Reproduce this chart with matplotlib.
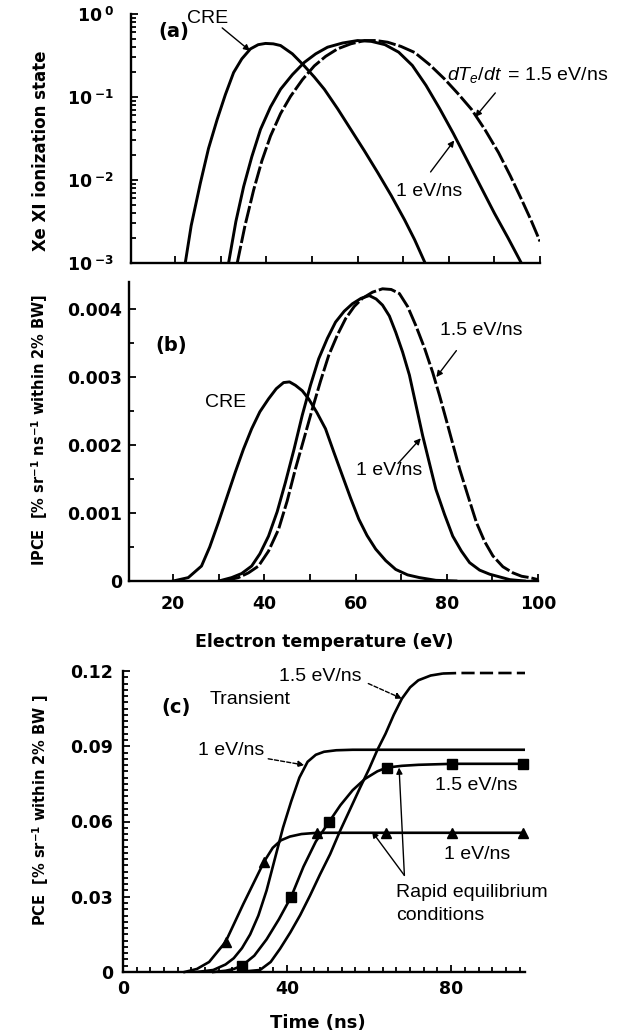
import matplotlib
matplotlib.use("Agg")
import numpy as np
import matplotlib.pyplot as plt
from matplotlib.ticker import (MultipleLocator, FuncFormatter, LogLocator,
                               NullFormatter, AutoMinorLocator)

plt.rcParams['font.family'] = ['DejaVu Sans']
plt.rcParams['font.weight'] = 'bold'
plt.rcParams['mathtext.fontset'] = 'custom'
plt.rcParams['mathtext.rm'] = 'Liberation Sans:weight=normal'
plt.rcParams['mathtext.it'] = 'Liberation Sans:style=italic:weight=normal'
plt.rcParams['mathtext.bf'] = 'DejaVu Sans:weight=bold'

# ---------------- (a) Xe XI ionization fraction vs electron temperature ----------------
te_cre_a = [22.2, 23.5, 25.5, 27.3, 29.2, 31.0, 32.8, 34.6, 36.5, 38.2, 39.8, 41.5,
            43.1, 45.7, 48.3, 50.5, 52.7, 55.6, 58.5, 61.5, 64.4, 67.4, 70.3, 72.5, 74.8]
xe_cre_a = [0.00100, 0.00282, 0.00912, 0.0240, 0.0537, 0.107, 0.197, 0.288, 0.380,
            0.427, 0.442, 0.437, 0.417, 0.331, 0.237, 0.174, 0.124, 0.0724, 0.0407,
            0.0224, 0.0123, 0.00646, 0.00331, 0.00191, 0.00100]

te_1_a = [31.7, 33.3, 35.0, 36.8, 38.7, 40.9, 43.1, 45.7, 48.3, 50.8, 53.4, 56.7, 60.0,
          63.0, 66.0, 69.0, 72.0, 75.0, 78.0, 81.0, 84.0, 87.0, 90.0, 93.0, 95.9]
xe_1_a = [0.00100, 0.00316, 0.00832, 0.0191, 0.0407, 0.0759, 0.124, 0.186, 0.261,
          0.331, 0.398, 0.447, 0.479, 0.468, 0.427, 0.347, 0.240, 0.138, 0.0724,
          0.0363, 0.0174, 0.00832, 0.00398, 0.00200, 0.00100]

te_15_a = [33.6, 35.3, 37.2, 39.0, 40.9, 43.1, 45.3, 47.9, 50.5, 53.0, 55.6, 58.5, 61.5,
           64.0, 66.6, 69.5, 72.5, 75.8, 79.1, 82.0, 85.0, 88.0, 90.9, 93.5, 96.0, 98.0, 100.0]
xe_15_a = [0.00100, 0.00282, 0.00759, 0.0170, 0.0339, 0.0631, 0.102, 0.162, 0.237,
           0.309, 0.380, 0.437, 0.479, 0.479, 0.457, 0.407, 0.344, 0.245, 0.164,
           0.110, 0.0708, 0.0398, 0.0214, 0.0112, 0.00575, 0.00331, 0.00182]

# ---------------- (b) IPCE vs electron temperature ----------------
te_cre_b = [20.0, 23.3, 26.2, 28.0, 29.9, 31.8, 33.6, 35.4, 37.2, 39.0, 40.9, 42.6, 44.2,
            45.5, 46.8, 48.3, 49.7, 51.5, 53.4, 55.2, 57.1, 58.9, 60.7, 62.5, 64.4, 66.6,
            68.8, 71.4, 74.0, 77.6, 82.0]
ipce_cre_b = [0.0, 0.00005, 0.00022, 0.00050, 0.00086, 0.00124, 0.00160, 0.00194,
              0.00224, 0.00249, 0.00268, 0.00283, 0.00292, 0.00293, 0.00288, 0.00280,
              0.00268, 0.00248, 0.00224, 0.00190, 0.00155, 0.00122, 0.00091, 0.00067,
              0.00047, 0.00030, 0.00017, 0.00009, 0.00005, 0.00001, 0.0]

te_1_b = [30.0, 32.8, 35.0, 37.2, 39.0, 40.9, 42.8, 44.6, 46.5, 48.3, 50.1, 51.9, 53.8,
          55.6, 57.5, 59.3, 61.2, 63.0, 64.5, 65.9, 67.4, 68.8, 70.3, 71.8, 73.2, 74.7,
          76.2, 77.6, 79.5, 81.3, 83.2, 85.0, 87.2, 89.4, 93.8, 97.0]
ipce_1_b = [0.0, 0.00005, 0.00011, 0.00022, 0.00040, 0.00066, 0.00102, 0.00145, 0.00194,
            0.00244, 0.00288, 0.00327, 0.00357, 0.00381, 0.00397, 0.00408, 0.00416,
            0.00420, 0.00415, 0.00406, 0.00390, 0.00366, 0.00337, 0.00303, 0.00260,
            0.00214, 0.00173, 0.00135, 0.00098, 0.00066, 0.00044, 0.00027, 0.00016,
            0.00010, 0.00002, 0.0]

te_15_b = [31.0, 34.3, 36.5, 38.7, 40.9, 43.1, 45.0, 46.8, 48.7, 50.5, 52.3, 54.1, 56.0,
           57.8, 59.7, 61.5, 63.7, 65.9, 67.8, 69.6, 71.4, 73.2, 75.1, 76.9, 78.4, 79.8,
           81.3, 82.8, 84.7, 86.5, 88.3, 90.1, 92.3, 94.5, 96.4, 98.2, 100.0]
ipce_15_b = [0.0, 0.00005, 0.00012, 0.00022, 0.00044, 0.00076, 0.00118, 0.00165, 0.00210,
             0.00253, 0.00294, 0.00332, 0.00362, 0.00386, 0.00404, 0.00416, 0.00425,
             0.00430, 0.00429, 0.00423, 0.00404, 0.00376, 0.00343, 0.00307, 0.00273,
             0.00239, 0.00202, 0.00165, 0.00124, 0.00086, 0.00058, 0.00037, 0.00021,
             0.00012, 0.00007, 0.00005, 0.00002]

# ---------------- (c) time-integrated PCE vs time ----------------
t_tr1 = [18, 22, 25, 27, 29, 31, 33, 35, 37, 39, 41, 43, 45, 47, 49, 52, 56, 98]
pce_tr1 = [0.0, 0.0008, 0.003, 0.0055, 0.0095, 0.015, 0.0225, 0.0325, 0.045, 0.0575,
           0.068, 0.0775, 0.0838, 0.0866, 0.0878, 0.0884, 0.0886, 0.0886]

t_tr15 = [28, 33.4, 36, 38.3, 40.8, 43.2, 45.6, 48, 50.5, 52.9, 55.4, 57.8, 60, 62,
          64, 66, 68, 70, 72, 75, 78, 82, 86, 98]
pce_tr15 = [0.0, 0.0008, 0.004, 0.0093, 0.0158, 0.0227, 0.0305, 0.0388, 0.047, 0.0562,
            0.065, 0.0735, 0.081, 0.0885, 0.095, 0.1025, 0.109, 0.1135, 0.1163, 0.1182,
            0.119, 0.1192, 0.1192, 0.1192]

t_eq15 = [22, 25, 27, 29, 32, 35, 38, 41, 44, 47, 50.3, 53, 56, 59, 62, 64.3, 68, 72,
          80.3, 89, 97.5]
pce_eq15 = [0.0, 0.0005, 0.0012, 0.0025, 0.0065, 0.013, 0.021, 0.030, 0.042, 0.052,
            0.060, 0.0665, 0.0725, 0.0770, 0.0800, 0.0815, 0.0822, 0.0826, 0.0830,
            0.0830, 0.0830]
eq15_marks = [3, 7, 10, 15, 18, 20]

t_eq1 = [15, 18, 21, 25, 29.3, 34.4, 36.5, 38.5, 40.7, 43.5, 47.3, 55, 64.2, 80.3, 97.6]
pce_eq1 = [0.0, 0.0012, 0.004, 0.012, 0.027, 0.044, 0.0495, 0.0525, 0.054, 0.055,
           0.0555, 0.0555, 0.0555, 0.0555, 0.0555]
eq1_marks = [3, 5, 10, 12, 13, 14]

W, H = 631, 1033
fig = plt.figure(figsize=(W / 100, H / 100), dpi=100)


def box(l, t, r, b):
    return [l / W, 1 - b / H, (r - l) / W, (b - t) / H]


ax_a = fig.add_axes(box(131, 14, 540, 263))
ax_b = fig.add_axes(box(129, 282, 538, 581))
ax_c = fig.add_axes(box(123, 671, 525, 972))


def style(ax):
    for s in ('top', 'right'):
        ax.spines[s].set_visible(False)
    for s in ('left', 'bottom'):
        ax.spines[s].set_linewidth(1.7)
    ax.tick_params(which='both', direction='in', width=1.3, labelsize=12.5,
                   top=False, right=False)
    ax.tick_params(which='major', length=5)
    ax.tick_params(which='minor', length=3.5)


for ax in (ax_a, ax_b, ax_c):
    style(ax)

LW = 2.1
ann_font = dict(family=['Liberation Sans', 'DejaVu Sans'], fontsize=14, fontweight='normal')
arrow_kw = dict(arrowstyle='-|>', color='k', lw=1.0, mutation_scale=9,
                shrinkA=0, shrinkB=0)


def split_plot(ax, x, y, dashed_spans, lw, dash):
    """Draw one curve, dashed inside the given x spans and solid elsewhere."""
    x = np.asarray(x)
    y = np.asarray(y)
    ax.plot(x, y, color='k', lw=lw, solid_capstyle='butt')
    for lo, hi in dashed_spans:
        m = (x >= lo) & (x <= hi)
        ax.plot(x[m], y[m], color='white', lw=lw + 1.2, solid_capstyle='butt')
        ax.plot(x[m], y[m], color='k', lw=lw, ls=dash)


# ---- panel (a)
ax_a.plot(te_cre_a, xe_cre_a, color='k', lw=LW)
ax_a.plot(te_1_a, xe_1_a, color='k', lw=LW)
ax_a.plot(te_15_a, xe_15_a, color='k', lw=LW, ls=(0, (6, 1.0)))
ax_a.set_yscale('log')
ax_a.set_ylim(1e-3, 1)
ax_a.set_xlim(10.3, 100)
ax_a.yaxis.set_major_locator(LogLocator(base=10, numticks=10))
ax_a.yaxis.set_minor_locator(LogLocator(base=10, subs=np.arange(2, 10), numticks=10))
ax_a.yaxis.set_minor_formatter(NullFormatter())
ax_a.yaxis.set_major_formatter(FuncFormatter(
    lambda v, p: r'$\mathbf{10}^{\ \mathbf{%d}}$' % int(round(np.log10(v)))))
ax_a.tick_params(axis='y', which='major', pad=12)
ax_a.xaxis.set_major_locator(MultipleLocator(10))
ax_a.xaxis.set_major_formatter(NullFormatter())

ax_a.text(19.6, 0.61, '(a)', ha='center', va='center', fontsize=14, fontweight='bold')
ax_a.text(27.2, 0.88, 'CRE', ha='center', va='center', **ann_font)
ax_a.annotate('', xy=(36.4, 0.36), xytext=(30.3, 0.68), arrowprops=arrow_kw)
ax_a.text(79.6, 0.184, r'$dT_e/dt\,$ = 1.5 eV/ns', ha='left', va='center', **ann_font)
ax_a.annotate('', xy=(85.8, 0.0575), xytext=(90.2, 0.112), arrowprops=arrow_kw)
ax_a.text(75.7, 0.0072, '1 eV/ns', ha='center', va='center', **ann_font)
ax_a.annotate('', xy=(81.2, 0.030), xytext=(76.0, 0.0125), arrowprops=arrow_kw)

# ---- panel (b)
ax_b.plot(te_cre_b, ipce_cre_b, color='k', lw=LW)
ax_b.plot(te_1_b, ipce_1_b, color='k', lw=LW)
ax_b.plot(te_15_b, ipce_15_b, color='k', lw=LW, ls=(0, (6, 1.0)))
ax_b.set_xlim(10.3, 100)
ax_b.set_ylim(0, 0.0044)
ax_b.yaxis.set_major_locator(MultipleLocator(0.001))
ax_b.yaxis.set_minor_locator(MultipleLocator(0.0005))
ax_b.yaxis.set_major_formatter(FuncFormatter(lambda v, p: '0' if abs(v) < 1e-9 else f'{v:.3f}'))
ax_b.xaxis.set_major_locator(MultipleLocator(20))
ax_b.xaxis.set_minor_locator(MultipleLocator(10))
ax_b.tick_params(axis='x', which='minor', length=5)
ax_b.tick_params(axis='x', which='major', pad=10)
ax_b.tick_params(axis='y', which='major', pad=5)

ax_b.text(19.6, 0.00347, '(b)', ha='center', va='center', fontsize=14, fontweight='bold')
ax_b.text(31.4, 0.00263, 'CRE', ha='center', va='center', **ann_font)
ax_b.text(87.5, 0.00368, '1.5 eV/ns', ha='center', va='center', **ann_font)
ax_b.annotate('', xy=(77.7, 0.0030), xytext=(82.1, 0.00339), arrowprops=arrow_kw)
ax_b.text(67.4, 0.00163, '1 eV/ns', ha='center', va='center', **ann_font)
ax_b.annotate('', xy=(74.3, 0.00210), xytext=(69.3, 0.00173), arrowprops=arrow_kw)

# ---- panel (c)
ax_c.plot(t_tr1, pce_tr1, color='k', lw=1.9)
split_plot(ax_c, t_tr15, pce_tr15, [(77, 98)], 1.9, (0, (5, 2)))
ax_c.plot(t_eq15, pce_eq15, color='k', lw=1.9, marker='s', ms=7,
          markevery=eq15_marks, clip_on=False)
ax_c.plot(t_eq1, pce_eq1, color='k', lw=1.9, marker='^', ms=7.5,
          markevery=eq1_marks, clip_on=False)
ax_c.set_xlim(0, 98)
ax_c.set_ylim(0, 0.12)
ax_c.yaxis.set_major_locator(MultipleLocator(0.03))
ax_c.yaxis.set_minor_locator(AutoMinorLocator(12))
ax_c.yaxis.set_major_formatter(FuncFormatter(lambda v, p: '0' if abs(v) < 1e-9 else f'{v:.2f}'))
ax_c.xaxis.set_major_locator(MultipleLocator(40))
ax_c.xaxis.set_minor_locator(AutoMinorLocator(12))
ax_c.tick_params(axis='x', which='major', pad=6)
ax_c.tick_params(axis='y', which='major', pad=7)

dash_arrow = dict(arrow_kw, linestyle=(0, (3, 1.5)))
ax_c.text(12.9, 0.1053, '(c)', ha='center', va='center', fontsize=14, fontweight='bold')
ax_c.text(21.2, 0.1085, 'Transient', ha='left', va='center', **ann_font)
ax_c.text(48.0, 0.1177, '1.5 eV/ns', ha='center', va='center', **ann_font)
ax_c.annotate('', xy=(68.0, 0.1090), xytext=(59.8, 0.1150), arrowprops=dash_arrow)
ax_c.text(26.3, 0.0882, '1 eV/ns', ha='center', va='center', **ann_font)
ax_c.annotate('', xy=(44.2, 0.0825), xytext=(35.4, 0.0850), arrowprops=dash_arrow)
ax_c.text(86.1, 0.0742, '1.5 eV/ns', ha='center', va='center', **ann_font)
ax_c.text(86.3, 0.0470, '1 eV/ns', ha='center', va='center', **ann_font)
ax_c.text(66.5, 0.0315, 'Rapid equilibrium', ha='left', va='center', **ann_font)
ax_c.text(66.5, 0.0227, 'conditions', ha='left', va='center', **ann_font)
ax_c.annotate('', xy=(67.3, 0.0815), xytext=(68.6, 0.0385), arrowprops=arrow_kw)
ax_c.annotate('', xy=(60.7, 0.0560), xytext=(68.6, 0.0385), arrowprops=arrow_kw)

# ---- axis titles
fig.text(41 / W, 1 - 151 / H, 'Xe XI ionization state', rotation=90, ha='center',
         va='center', fontsize=12, fontweight='bold')
fig.text(40 / W, 1 - 430 / H,
         r'IPCE  [% sr$^{\mathbf{-1}}$ ns$^{\mathbf{-1}}$ within 2% BW]',
         rotation=90, ha='center', va='center', fontsize=10.5, fontweight='bold')
fig.text(41 / W, 1 - 810 / H, r'PCE  [% sr$^{\mathbf{-1}}$ within 2% BW ]',
         rotation=90, ha='center', va='center', fontsize=10.5, fontweight='bold')
fig.text(324 / W, 1 - 642 / H, 'Electron temperature (eV)', ha='center', va='center',
         fontsize=12.5, fontweight='bold')
fig.text(318 / W, 1 - 1023 / H, 'Time (ns)', ha='center', va='center',
         fontsize=13, fontweight='bold')

fig.savefig('out.png', dpi=100, facecolor='white')
